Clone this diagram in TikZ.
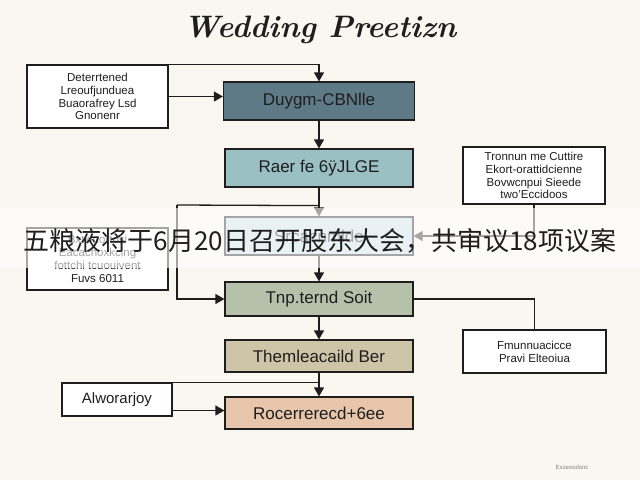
\documentclass[tikz,border=0pt]{standalone}
\usepackage{fontspec}
\setsansfont{Liberation Sans}
\newfontfamily\cjkfont{Noto Sans CJK SC}
\usetikzlibrary{arrows.meta,calc}
\definecolor{bg}{RGB}{250,247,240}
\definecolor{edge}{RGB}{30,30,30}
\definecolor{cA}{RGB}{95,122,135}
\definecolor{cB}{RGB}{155,192,196}
\definecolor{cC}{RGB}{200,222,228}
\definecolor{cD}{RGB}{182,193,172}
\definecolor{cE}{RGB}{206,197,168}
\definecolor{cF}{RGB}{232,198,172}
\definecolor{txt}{RGB}{30,30,30}
\begin{document}
\begin{tikzpicture}[x=1pt,y=-1pt,
  mainbox/.style={draw=edge, line width=1.2pt, minimum width=188pt, minimum height=34pt,
    font=\sffamily\fontsize{17}{19}\selectfont, text=txt, inner sep=0pt},
  sidebox/.style={draw=edge, fill=white, line width=1.2pt, text=txt,
    font=\sffamily\fontsize{11.5}{12.8}\selectfont, align=center, inner sep=0pt},
  conn/.style={line width=1.3pt, draw=edge},
  arr/.style={conn, -{Triangle[length=9pt,width=10pt]}}]
\path[use as bounding box, fill=bg] (0,0) rectangle (640,480);
% title
\node[font=\fontsize{31}{34}\selectfont\itshape\bfseries, text=txt] (title) at (320,30) {Wedding Preetizn};
% main column
\node[mainbox, fill=cA, minimum width=191pt, minimum height=38pt] (b1) at (319,101) {Duygm-CBNlle};
\node[mainbox, fill=cB, minimum height=38pt] (b2) at (319,168) {Raer fe 6ÿJLGE};
\node[mainbox, fill=cC, minimum height=38pt] (b3) at (319,236) {Srcacnmlde};
\node[mainbox, fill=cD] (b4) at (319,299) {Tnp.ternd Soit};
\node[mainbox, fill=cE, minimum height=32pt] (b5) at (319,356) {Themleacaild Ber};
\node[mainbox, fill=cF, minimum height=32pt] (b6) at (319,413) {Rocerrerecd+6ee};
% side boxes
\node[sidebox, minimum width=141pt, minimum height=63pt] (tl) at (97.5,96.5)
  {Deterrtened\\Lreoufjunduea\\Buaorafrey Lsd\\Gnonenr};
\node[sidebox, minimum width=142pt, minimum height=57pt] (tr) at (534,175.5)
  {Tronnun me Cuttire\\Ekort-orattidcienne\\Bovwcnpui Sieede\\two'Eccidoos};
\node[sidebox, minimum width=141pt, minimum height=62pt] (ml) at (97.5,259)
  {Bxtwnortosi\\Eacachoxkcing\\fottchi tcuouivent\\Fuvs 6011};
\node[sidebox, minimum width=143pt, minimum height=43pt] (mr) at (534.5,351.5)
  {Fmunnuacicce\\Pravi Elteoiua};
\node[sidebox, minimum width=110pt, minimum height=33pt, font=\sffamily\fontsize{15}{17}\selectfont] (al) at (117,399.5) {Alworarjoy};
% connectors
\draw[arr] (tl.north east) -| (b1.north);
\draw[arr] (tl.east) -- (tl.east -| b1.west);
\draw[arr] (b1) -- (b2);
\draw[arr] (b2) -- (b3);
\coordinate (j1) at ($(b2.south)+(0,18)$);
\coordinate (j2) at (177,205);
\draw[conn] (j1) -- (j2);
\draw[arr] (j2) |- (b4.west);
\draw[arr] (b3) -- (b4);
\draw[arr] (tr.south) |- (b3.east);
\draw[conn] (b4.east) -| (mr.north);
\draw[arr] (b4) -- (b5);
\draw[arr] (b5) -- (b6);
\draw[conn] (al.north east) -- (al.north east -| b6.north);
\draw[arr] ([yshift=-11pt]al.east) -- ([yshift=-11pt]al.east -| b6.west);
% watermark text
\node[font=\sffamily\fontsize{6}{7}\selectfont, text=gray] (mark) at (572,467) {Exzeoodsnc};
% caption overlay
\fill[white, opacity=0.6] (0,208) rectangle (640,268);
\node[font=\cjkfont\fontsize{26}{28}\selectfont, text=txt, inner sep=0pt] (cap) at (320,241) {五粮液将于6月20日召开股东大会，共审议18项议案};
\end{tikzpicture}
\end{document}
